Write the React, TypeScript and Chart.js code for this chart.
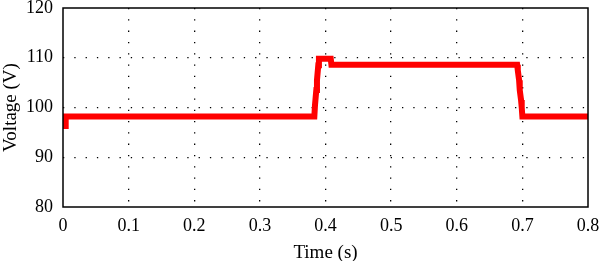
import React, { useEffect, useRef } from "react";
import { Chart, registerables } from "chart.js";

Chart.register(...registerables);

const timeValues = [
  0, 0.004, 0.0041, 0.1, 0.2, 0.3, 0.383, 0.384, 0.386, 0.387, 0.389, 0.39, 0.392, 0.408, 0.409, 0.5, 0.6, 0.692, 0.693, 0.695, 0.696, 0.698, 0.699, 0.7, 0.75, 0.8,
];
const voltageValues = [
  96.3, 96.3, 98.2, 98.2, 98.2, 98.2, 98.2, 100.5, 103.5, 105.5, 108.5, 109.8, 109.8, 109.8, 108.6, 108.6, 108.6, 108.6, 107.5, 105.5, 103.5, 101.5, 100, 98.2, 98.2, 98.2,
];
const xTicks = [0, 0.1, 0.2, 0.3, 0.4, 0.5, 0.6, 0.7, 0.8];
const yTicks = [80, 90, 100, 110, 120];
const xTitle = "Time (s)";
const yTitle = "Voltage (V)";

const FONT = "'Liberation Serif', 'DejaVu Serif', serif";

export default function App() {
  const ref = useRef<HTMLCanvasElement | null>(null);

  useEffect(() => {
    document.body.style.margin = "0";
    const canvas = ref.current;
    if (!canvas) return;
    const data = timeValues.map((t, i) => ({ x: t, y: voltageValues[i] }));

    const boxPlugin = {
      id: "boxPlugin",
      afterDraw(chart: any) {
        const { ctx, chartArea } = chart;
        ctx.save();
        ctx.strokeStyle = "#000";
        ctx.lineWidth = 1.5;
        ctx.strokeRect(chartArea.left, chartArea.top, chartArea.right - chartArea.left, chartArea.bottom - chartArea.top);
        ctx.restore();
      },
    };

    const gridColor = (ctx: any) => {
      const v = ctx.tick && ctx.tick.value;
      const s = ctx.scale;
      if (v === s.min || v === s.max) return "rgba(0,0,0,0)";
      return "#000";
    };

    const chart = new Chart(canvas, {
      type: "line",
      data: {
        datasets: [
          {
            data,
            borderColor: "#ff0000",
            borderWidth: 6,
            pointRadius: 0,
            tension: 0,
            fill: false,
            borderJoinStyle: "miter",
          },
        ],
      },
      options: {
        animation: false,
        responsive: false,
        maintainAspectRatio: false,
        layout: { padding: { left: 0, top: 8, right: 12, bottom: 0 } },
        plugins: { legend: { display: false }, tooltip: { enabled: false } },
        scales: {
          x: {
            type: "linear",
            min: 0,
            max: 0.8,
            afterBuildTicks: (scale: any) => {
              scale.ticks = xTicks.map((v) => ({ value: v }));
            },
            afterFit: (scale: any) => {
              scale.height = 54;
              scale.paddingLeft = 0;
              scale.paddingRight = 0;
            },
            ticks: {
              color: "#000",
              font: { family: FONT, size: 18 },
              padding: 8,
              maxRotation: 0,
              autoSkip: false,
              callback: (v: any) => String(Number(v)),
            },
            grid: {
              drawTicks: false,
              color: gridColor,
              lineWidth: 1.3,
            },
            border: { display: false, dash: [1.3, 10] } as any,
            title: {
              display: true,
              text: xTitle,
              color: "#000",
              font: { family: FONT, size: 19 },
              padding: { top: 0, bottom: -3 },
            },
          },
          y: {
            type: "linear",
            min: 80,
            max: 120,
            afterBuildTicks: (scale: any) => {
              scale.ticks = yTicks.map((v) => ({ value: v }));
            },
            afterFit: (scale: any) => {
              scale.width = 63;
              scale.paddingTop = 0;
              scale.paddingBottom = 0;
            },
            ticks: {
              color: "#000",
              font: { family: FONT, size: 18 },
              padding: 10,
              autoSkip: false,
            },
            grid: {
              drawTicks: false,
              color: gridColor,
              lineWidth: 1.3,
            },
            border: { display: false, dash: [1.3, 10] } as any,
            title: {
              display: true,
              text: yTitle,
              color: "#000",
              font: { family: FONT, size: 19 },
              padding: { top: 0, bottom: 0 },
            },
          },
        },
      },
      plugins: [boxPlugin],
    } as any);

    return () => chart.destroy();
  }, []);

  return (
    <div style={{ width: 600, height: 261 }}>
      <canvas ref={ref} width={600} height={261} style={{ width: 600, height: 261, display: "block" }} />
    </div>
  );
}
